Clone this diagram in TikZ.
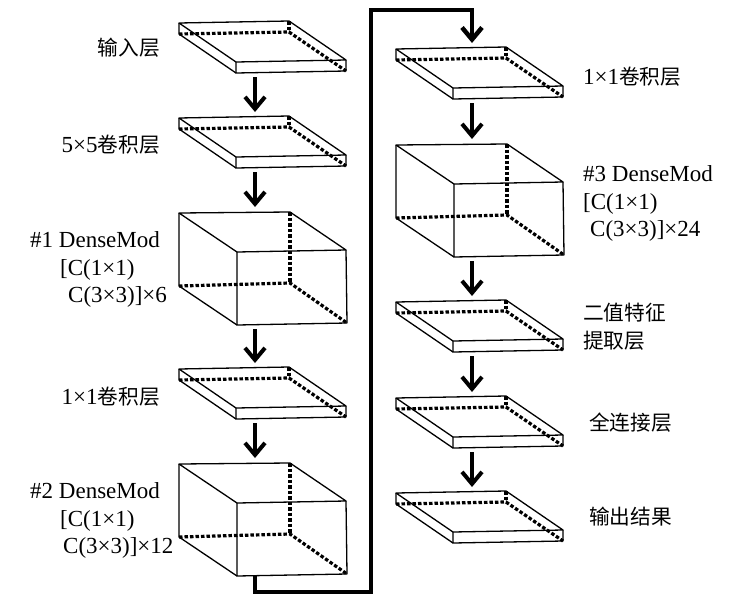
\documentclass[tikz,border=0pt]{standalone}
\usepackage{fontspec}
\setmainfont{Liberation Serif}
\newfontfamily\cjk[Scale=0.9]{Noto Sans CJK SC}
\usetikzlibrary{arrows.meta}

\tikzset{
  edge/.style={line width=1.3pt, line join=round},
  hidden/.style={line width=3.2pt, dash pattern=on 3.5pt off 2pt},
  flow/.style={line width=4pt, -{Straight Barb[length=12pt,width=20pt]}},
  lbl/.style={font=\fontsize{23}{27.5}\selectfont, inner sep=0pt},
  % thin layer, origin = back top left corner
  slab/.pic={
    \draw[edge] (0,0) -- (110,-2) -- (167,37) -- (57,39) -- cycle;
    \draw[edge] (57,39) -- (57,50) -- (167,48) -- (167,37);
    \draw[edge] (0,0) -- (0,11) -- (57,50);
    \draw[hidden] (0,11) -- (110,9) -- (167,48);   % back edges
    \draw[hidden] (110,-2) -- (110,9);
    \coordinate (-in) at (76,-6);
    \coordinate (-out) at (76,54);
  },
  % dense module block
  cube/.pic={
    \draw[edge] (0,0) -- (111,-1) -- (167,37) -- (58,39) -- cycle;
    \draw[edge] (58,39) -- (58,112) -- (168,110) -- (167,37);
    \draw[edge] (0,0) -- (0,73) -- (58,112);
    \draw[hidden] (0,73) -- (111,70) -- (168,110);  % back edges
    \draw[hidden] (111,-1) -- (111,70);
    \coordinate (-in) at (76,-6);
    \coordinate (-out) at (76,116);
    \coordinate (-foot) at (76,111);
  }
}

\begin{document}
\begin{tikzpicture}[x=1pt,y=-1pt]
  \useasboundingbox (0,0) rectangle (741,597);

  % left column
  \pic (inp) at (179,23) {slab};
  \pic (cv5) at (179,118) {slab};
  \pic (dm1) at (179,213) {cube};
  \pic (cv1) at (179,369) {slab};
  \pic (dm2) at (179,464) {cube};

  % right column
  \pic (cv1b) at (396,49) {slab};
  \pic (dm3) at (396,145) {cube};
  \pic (bin) at (396,302) {slab};
  \pic (fc) at (396,398) {slab};
  \pic (res) at (396,493) {slab};

  \foreach \a/\b in {inp/cv5, cv5/dm1, dm1/cv1, cv1/dm2,
                     cv1b/dm3, dm3/bin, bin/fc, fc/res} {
    \draw[flow] (\a-out) -- (\b-in);
  }

  % jump from the bottom of the left column to the top of the right one
  \coordinate (low) at (371,592);
  \coordinate (high) at (371,10);
  \draw[flow,line width=4.5pt] (dm2-foot) |- (low) -- (high) -| (cv1b-in);

  % labels
  \node[lbl,anchor=east] (t-inp) at (160,48) {\cjk 输入层};
  \node[lbl,anchor=east] (t-cv5) at (160,145) {5×5{\cjk 卷积层}};
  \node[lbl,anchor=west,align=left] (t-dm1) at (30,269.5)
    {\#1 DenseMod\\\hspace*{30pt}{[}C(1×1)\\\hspace*{38pt}C(3×3)]×6};
  \node[lbl,anchor=east] (t-cv1) at (160,397) {1×1{\cjk 卷积层}};
  \node[lbl,anchor=west,align=left] (t-dm2) at (30,520.5)
    {\#2 DenseMod\\\hspace*{30pt}{[}C(1×1)\\\hspace*{33pt}C(3×3)]×12};

  \node[lbl,anchor=west] (t-cv1b) at (583,77) {1×1{\cjk 卷积层}};
  \node[lbl,anchor=west,align=left] (t-dm3) at (583,203.5)
    {\#3 DenseMod\\{[}C(1×1)\\\hspace*{7pt}C(3×3)]×24};
  \node[lbl,anchor=west,align=left] (t-bin) at (583,326.5)
    {\cjk 二值特征\\\cjk 提取层};
  \node[lbl,anchor=west] (t-fc) at (589,423) {\cjk 全连接层};
  \node[lbl,anchor=west] (t-res) at (589,517) {\cjk 输出结果};
\end{tikzpicture}
\end{document}
